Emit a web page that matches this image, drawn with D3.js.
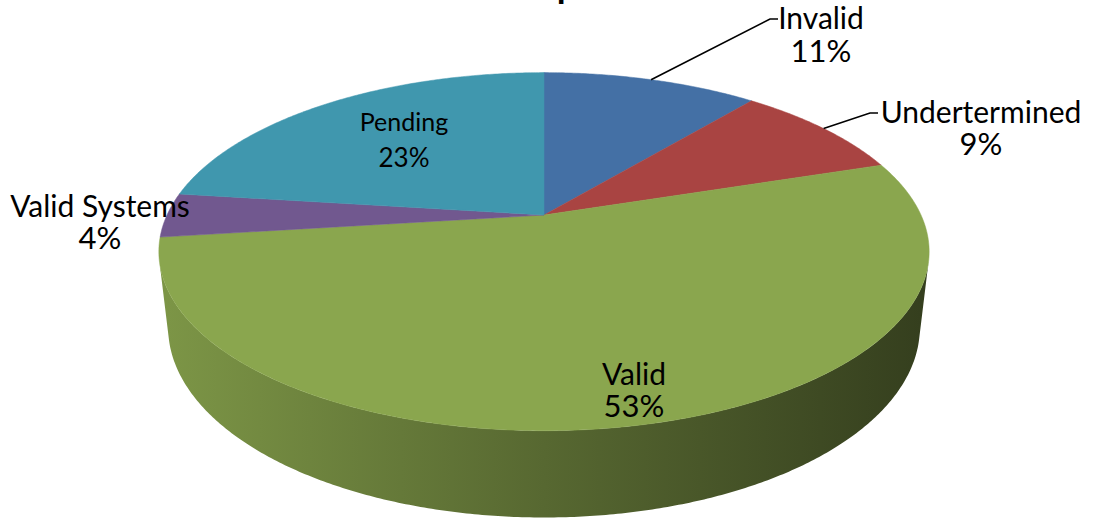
<!DOCTYPE html>
<meta charset="utf-8">
<style>
body { margin: 0; background: #fff; }
.lbl { font-family: Lato, "Liberation Sans", sans-serif; fill: #000; }
.leader { fill: none; stroke: #000; stroke-width: 1.6px; }
</style>
<body>
<script src="https://d3js.org/d3.v7.min.js"></script>
<script>

// data
var names  = ["Invalid", "Undertermined", "Valid", "Valid Systems", "Pending"];
var values = [11, 9, 53, 4, 23];
var colors = ["#4470A5", "#A94442", "#8AA64E", "#71588F", "#4097AE"];

// label layout (text anchor points), same order as names
var labelPos = [
  {x: 821, y: 29,  gap: 33, size: 30, line: [[770, 19], [778, 19]]},
  {x: 981, y: 123, gap: 32, size: 30, line: [[870, 113], [878, 113]]},
  {x: 634, y: 385, gap: 32, size: 30},
  {x: 100, y: 217, gap: 32, size: 30},
  {x: 404, y: 131, gap: 36, size: 25}
];

var width = 1099, height = 522;

// fake 3d: a disc seen from above with a bit of perspective
var cx = 544, cy = 215, k = 377, L = 4.35, h = 0.227;
var sp = 0.455, cp = Math.sqrt(1 - sp * sp);

function proj(a, r, w) {
  var u = r * Math.sin(a), v = r * Math.cos(a);
  var depth = v * cp - w * sp + L;
  return [cx + k * u * L / depth, cy - k * (v * sp + w * cp) * L / depth];
}

function arcPts(a0, a1, w) {
  var n = Math.max(2, Math.ceil(Math.abs(a1 - a0) / (Math.PI / 360)));
  var pts = [];
  for (var i = 0; i <= n; i++) pts.push(proj(a0 + (a1 - a0) * i / n, 1, w));
  return pts;
}

var svg = d3.select("body").append("svg")
    .attr("width", width)
    .attr("height", height);

var pie = d3.pie().sort(null).value(function(d) { return d; });
var arcs = pie(values);

// side wall only where it faces the viewer
var thr = Math.acos(-1 / (L * cp));
var wallFrom = thr, wallTo = 2 * Math.PI - thr;

var defs = svg.append("defs");
colors.forEach(function(c, i) {
  var g = defs.append("linearGradient")
      .attr("id", "wall" + i)
      .attr("gradientUnits", "userSpaceOnUse")
      .attr("x1", cx - k).attr("x2", cx + k)
      .attr("y1", 0).attr("y2", 0);
  g.append("stop").attr("offset", "0%").attr("stop-color", d3.color(c).darker(0.3));
  g.append("stop").attr("offset", "50%").attr("stop-color", d3.color(c).darker(1.3));
  g.append("stop").attr("offset", "100%").attr("stop-color", d3.color(c).darker(2.7));
});

var line = d3.line();

arcs.forEach(function(d, i) {
  var a = Math.max(d.startAngle, wallFrom), b = Math.min(d.endAngle, wallTo);
  if (b <= a) return;
  var pts = arcPts(a, b, 0).concat(arcPts(b, a, -h));
  svg.append("path")
      .attr("d", line(pts) + "Z")
      .attr("fill", "url(#wall" + i + ")");
});

// top faces
arcs.forEach(function(d, i) {
  var pts = [proj(0, 0, 0)].concat(arcPts(d.startAngle, d.endAngle, 0));
  svg.append("path")
      .attr("d", line(pts) + "Z")
      .attr("fill", colors[i])
      .attr("stroke", colors[i])
      .attr("stroke-width", 0.5);
});

// leader lines for outside labels
arcs.forEach(function(d, i) {
  var p = labelPos[i];
  if (!p.line) return;
  var mid = (d.startAngle + d.endAngle) / 2;
  svg.append("path")
      .attr("class", "leader")
      .attr("d", line([proj(mid, 1, 0)].concat(p.line)));
});

// labels: name on one line, percent under it
var total = d3.sum(values);
arcs.forEach(function(d, i) {
  var p = labelPos[i];
  var t = svg.append("text").attr("class", "lbl")
      .attr("x", p.x).attr("y", p.y)
      .attr("text-anchor", "middle")
      .style("font-size", p.size + "px");
  t.append("tspan").attr("x", p.x).text(names[i]);
  t.append("tspan").attr("x", p.x).attr("dy", p.gap)
      .style("font-size", (p.size + 1) + "px")
      .text(Math.round(d.value / total * 100) + "%");
});

// title is cut off by the top edge, only a descender shows
svg.append("text").attr("class", "lbl")
    .attr("x", 567).attr("y", -2)
    .attr("text-anchor", "middle")
    .style("font-size", "36px")
    .style("font-weight", "bold")
    .text("p");

</script>
</body>
